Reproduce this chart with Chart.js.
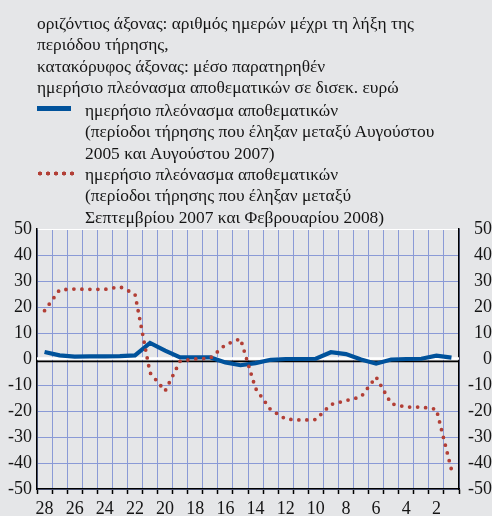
<!DOCTYPE html>
<html lang="el">
<head>
  <meta charset="UTF-8" />
  <title>Ημερήσιο πλεόνασμα αποθεματικών</title>
  <style>
    body {
      margin: 0;
      background: #e5e6e8;
      font-family: "Liberation Serif", "DejaVu Serif", serif;
      color: #151515;
    }

    #wrap {
      position: relative;
      width: 492px;
      height: 516px;
      overflow: hidden;
    }

    #chart {
      position: absolute;
      left: 0;
      top: 0;
    }

    .txt {
      position: absolute;
      font-size: 17.4px;
      line-height: 21.3px;
      white-space: nowrap;
    }

    #head { left: 37px; top: 13px; }
    #leg1 { left: 85px; top: 100px; }
    #leg2 { left: 85px; top: 164px; }

    .swatch-line {
      position: absolute;
      left: 37px;
      top: 106px;
      width: 34px;
      height: 4.5px;
      background: #00529b;
    }

    .swatch-dots {
      position: absolute;
      left: 36px;
      top: 171px;
      width: 38px;
      height: 5px;
      background: radial-gradient(circle, #b23f36 1.8px, transparent 2.3px) 0 0 / 8px 5px repeat-x;
    }
  </style>
</head>
<body>
  <div id="wrap">
    <canvas id="chart" width="492" height="516"></canvas>

    <div class="txt" id="head">
      οριζόντιος άξονας: αριθμός ημερών μέχρι τη λήξη της<br>
      περιόδου τήρησης,<br>
      κατακόρυφος άξονας: μέσο παρατηρηθέν<br>
      ημερήσιο πλεόνασμα αποθεματικών σε δισεκ. ευρώ
    </div>

    <div class="swatch-line"></div>
    <div class="txt" id="leg1">
      ημερήσιο πλεόνασμα αποθεματικών<br>
      (περίοδοι τήρησης που έληξαν μεταξύ Αυγούστου<br>
      2005 και Αυγούστου 2007)
    </div>

    <div class="swatch-dots"></div>
    <div class="txt" id="leg2">
      ημερήσιο πλεόνασμα αποθεματικών<br>
      (περίοδοι τήρησης που έληξαν μεταξύ<br>
      Σεπτεμβρίου 2007 και Φεβρουαρίου 2008)
    </div>
  </div>

  <script src="https://cdn.jsdelivr.net/npm/chart.js"></script>
  <script>
    // days until end of the maintenance period, counted down
    const days = [28, 27, 26, 25, 24, 23, 22, 21, 20, 19, 18, 17, 16, 15,
                  14, 13, 12, 11, 10, 9, 8, 7, 6, 5, 4, 3, 2, 1];

    // Aug 2005 - Aug 2007 periods
    const surplusOld = [2.7, 1.4, 0.9, 1.0, 1.0, 1.1, 1.4, 6.2, 3.2, 0.6, 0.6, 0.6, -1.3, -2.4,
                        -1.6, -0.3, 0.0, 0.0, 0.1, 2.6, 1.9, -0.2, -1.8, -0.2, 0.0, 0.1, 1.3, 0.5];

    // Sep 2007 - Feb 2008 periods
    const surplusNew = [18.6, 26.6, 26.9, 26.8, 26.8, 27.8, 25.0, -5.3, -12.3, -0.8, 0.0, 0.3, 5.5, 7.8,
                        -11.3, -19.5, -23.1, -23.5, -23.3, -17.5, -16.0, -14.6, -6.9, -17.2, -18.5, -18.5, -19.3, -42.6];

    const yTicks = [-50, -40, -30, -20, -10, 0, 10, 20, 30, 40, 50];

    const gridBlue = '#8a9ad6';
    const tickFont = { family: "'Liberation Serif', serif", size: 18 };

    // white rule with a black one just under it at zero
    const zeroLine = {
      id: 'zeroLine',
      beforeDatasetsDraw(chart) {
        const { ctx, chartArea, scales } = chart;
        const y0 = scales.y.getPixelForValue(0);
        ctx.save();
        ctx.strokeStyle = '#ffffff';
        ctx.lineWidth = 2.3;
        ctx.beginPath();
        ctx.moveTo(chartArea.left, y0 - 0.5);
        ctx.lineTo(chartArea.right, y0 - 0.5);
        ctx.stroke();
        ctx.strokeStyle = '#000000';
        ctx.lineWidth = 1.8;
        ctx.beginPath();
        ctx.moveTo(chartArea.left, y0 + 2.4);
        ctx.lineTo(chartArea.right, y0 + 2.4);
        ctx.stroke();
        ctx.restore();
      }
    };

    function yGridColor(ctx) {
      const v = ctx.tick.value;
      if (v === 50) return '#ffffff';
      if (v === 0) return 'rgba(0,0,0,0)';
      return gridBlue;
    }

    new Chart(document.getElementById('chart'), {
      type: 'line',
      data: {
        labels: days.map(String),
        datasets: [
          {
            label: 'Αύγ. 2005 - Αύγ. 2007',
            data: surplusOld,
            borderColor: '#00529b',
            borderWidth: 4.2,
            pointRadius: 0,
            tension: 0,
            order: 1
          },
          {
            label: 'Σεπ. 2007 - Φεβ. 2008',
            data: surplusNew,
            borderColor: '#b23f36',
            borderWidth: 3.8,
            borderDash: [0, 8],
            borderCapStyle: 'round',
            pointRadius: 0,
            tension: 0,
            order: 0
          }
        ]
      },
      options: {
        responsive: false,
        animation: false,
        layout: { padding: { top: 229, left: 0, right: 0, bottom: 0 } },
        plugins: {
          legend: { display: false },
          tooltip: { enabled: false }
        },
        scales: {
          x: {
            type: 'category',
            offset: true,
            grid: {
              offset: true,
              color: gridBlue,
              lineWidth: 1,
              tickLength: 5,
              tickColor: '#000000',
              tickWidth: 1.5
            },
            border: { color: '#000000', width: 1.5 },
            ticks: {
              autoSkip: false,
              maxRotation: 0,
              padding: 4,
              color: '#151515',
              font: tickFont,
              callback(value) {
                const lbl = this.getLabelForValue(value);
                return Number(lbl) % 2 === 0 ? lbl : '';
              }
            },
            afterFit(scale) { scale.height = 27; }
          },
          y: {
            position: 'left',
            min: -50,
            max: 50,
            afterBuildTicks(scale) { scale.ticks = yTicks.map(v => ({ value: v })); },
            grid: { color: yGridColor, lineWidth: 1, drawTicks: false },
            border: { color: '#000000', width: 1.5 },
            ticks: { padding: 5, color: '#151515', font: tickFont },
            afterFit(scale) { scale.width = 37; }
          },
          y2: {
            position: 'right',
            min: -50,
            max: 50,
            afterBuildTicks(scale) { scale.ticks = yTicks.map(v => ({ value: v })); },
            grid: { drawOnChartArea: false, drawTicks: false },
            border: { color: '#000000', width: 1.5 },
            ticks: { padding: 5, crossAlign: 'far', color: '#151515', font: tickFont },
            afterFit(scale) { scale.width = 33; }
          }
        }
      },
      plugins: [zeroLine]
    });
  </script>
</body>
</html>
